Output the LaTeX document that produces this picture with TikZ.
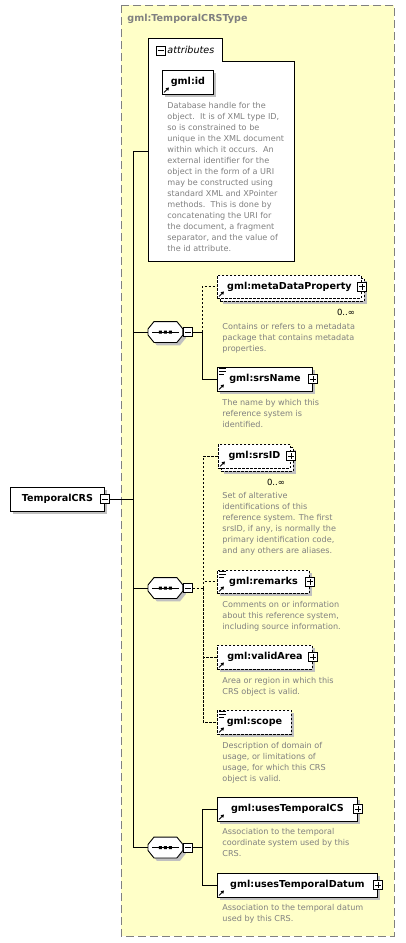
\documentclass[tikz,border=0pt]{standalone}
\usepackage{fontspec}
\setmainfont{DejaVu Sans}
\usepackage{tikz}
\usetikzlibrary{positioning,calc,shadows,arrows.meta}
\definecolor{xsdyellow}{RGB}{255,255,200}
\definecolor{xsdgray}{RGB}{128,128,128}
\definecolor{xsdshadow}{RGB}{192,192,192}
\newcommand{\seqoct}[1]{%
\draw[fill=white,boxshadow] ($(#1.west)+(0,-3)$) -- ($(#1.north west)+(6,0)$) -- ($(#1.north east)+(-6,0)$)
  -- ($(#1.east)+(0,-3)$) -- ($(#1.east)+(0,3)$) -- ($(#1.south east)+(-6,0)$)
  -- ($(#1.south west)+(6,0)$) -- ($(#1.west)+(0,3)$) -- cycle;
\draw ($(#1.west)+(4,0)$) -- ($(#1.east)+(-4,0)$);
\fill ($(#1.center)+(-6.5,-1.5)$) rectangle ++(3,3) ($(#1.center)+(-1.5,-1.5)$) rectangle ++(3,3)
  ($(#1.center)+(3.5,-1.5)$) rectangle ++(3,3);}

\begin{document}
\begin{tikzpicture}[x=1pt,y=-1pt,line width=0.9pt,
elem/.style={draw,fill=white,rectangle,anchor=west,inner sep=0pt,minimum height=24pt,
  font=\fontsize{9.6}{11}\selectfont\bfseries},
xsdopt/.style={dash pattern=on 2.5pt off 1.5pt},
boxshadow/.style={drop shadow={shadow xshift=3pt,shadow yshift=-3pt,fill=xsdshadow,opacity=1}},
xsdnote/.style={anchor=north west,inner sep=0pt,align=left,text=xsdgray,
  font=\fontsize{8.1}{11}\selectfont},
plusbox/.style={draw,fill=white,rectangle,minimum size=9pt,inner sep=0pt,line width=0.8pt,
  path picture={\draw[line width=0.8pt]
    ([xshift=1.5pt]path picture bounding box.west) -- ([xshift=-1.5pt]path picture bounding box.east)
    ([yshift=1.5pt]path picture bounding box.south) -- ([yshift=-1.5pt]path picture bounding box.north);}},
minusbox/.style={draw,fill=white,rectangle,minimum size=9pt,inner sep=0pt,line width=0.8pt,
  path picture={\draw[line width=0.8pt]
    ([xshift=1.5pt]path picture bounding box.west) -- ([xshift=-1.5pt]path picture bounding box.east);}},
seqbox/.style={rectangle,anchor=west,minimum width=34pt,minimum height=20pt,inner sep=0pt},
refarrow/.style={-{Triangle[length=3pt,width=3.5pt]},line width=0.8pt},
occurs/.style={inner sep=0pt,font=\fontsize{8.5}{10}\selectfont},
]
\useasboundingbox (0,0) rectangle (405,943);

\draw[xsdgray,fill=xsdyellow,dash pattern=on 8pt off 4pt] (121,5) rectangle (394,936);
\node (typename) at (127,19) [anchor=west,inner sep=0pt,text=xsdgray,
  font=\fontsize{9.6}{11}\selectfont\bfseries] {gml:TemporalCRSType};

\draw[fill=white] (148,261) -- (148,38) -- (222,38) -- (222,61) -- (294,61) -- (294,261) -- cycle;
\node (attrminus) at (160.5,50.5) [minusbox] {};
\node (attrlabel) at (167,50) [anchor=west,inner sep=0pt,font=\fontsize{9.6}{11}\selectfont\itshape] {attributes};
\node (gmlid) at (162,82) [elem,boxshadow,minimum width=51pt] {gml:id};
\draw[refarrow] ($(gmlid.south west)+(2,-2)$) -- ++(5,-5);
\node (iddesc) at (167,102) [xsdnote] {Database handle for the\\
object.\ \ It is of XML type ID,\\
so is constrained to be\\
unique in the XML document\\
within which it occurs.\ \ An\\
external identifier for the\\
object in the form of a URI\\
may be constructed using\\
standard XML and XPointer\\
methods.\ \ This is done by\\
concatenating the URI for\\
the document, a fragment\\
separator, and the value of\\
the id attribute.};
\coordinate (attrin) at (148,151);

\node (crs) at (10,499) [elem,boxshadow,minimum width=94pt] {TemporalCRS};
\node (crsminus) at (crs.east) [minusbox] {};

\coordinate (sp0) at (133,151);
\coordinate (spc) at (133,499);
\coordinate (sp1) at (133,332);
\coordinate (sp2) at (133,588);
\coordinate (sp3) at (133,847.5);

\node (seq1) at (148,332) [seqbox] {};
\seqoct{seq1}
\node (seq1m) at (seq1.east) [minusbox,anchor=west] {};
\coordinate (br1) at (202,332);
\node (seq2) at (148,588) [seqbox] {};
\seqoct{seq2}
\node (seq2m) at (seq2.east) [minusbox,anchor=west] {};
\coordinate (br2) at (203,588);
\node (seq3) at (148,847.5) [seqbox] {};
\seqoct{seq3}
\node (seq3m) at (seq3.east) [minusbox,anchor=west] {};
\coordinate (br3) at (202,847.5);

\node (mdpback) at (220,289.5) [elem,xsdopt,boxshadow,minimum width=144pt,minimum height=23pt] {};
\node (mdp) at (217,286.5) [elem,xsdopt,minimum width=144pt,minimum height=23pt] {gml:metaDataProperty};
\node (mdpplus) at (mdp.east) [plusbox] {};
\draw[refarrow] ($(mdp.south west)+(2,-2)$) -- ++(5,-5);
\node (mdpocc) at (346,312) [occurs] {0..∞};
\node (mdpdesc) at (222,323) [xsdnote] {Contains or refers to a metadata\\
package that contains metadata\\
properties.};

\node (srsname) at (217,379) [elem,boxshadow,minimum width=95pt] {gml:srsName};
\node (srsnameplus) at (srsname.east) [plusbox] {};
\draw[refarrow] ($(srsname.south west)+(2,-2)$) -- ++(5,-5);
\draw[line width=0.8pt] ($(srsname.north west)+(2,2)$) -- ++(7,0) ++(-7,3) -- ++(7,0) ++(-7,3) -- ++(5,0);
\node (srsnamedesc) at (222,399) [xsdnote] {The name by which this\\
reference system is\\
identified.};

\node (srsidback) at (221,459) [elem,xsdopt,boxshadow,minimum width=72pt] {};
\node (srsid) at (218,456) [elem,xsdopt,minimum width=72pt] {gml:srsID};
\node (srsidplus) at (srsid.east) [plusbox] {};
\draw[refarrow] ($(srsid.south west)+(2,-2)$) -- ++(5,-5);
\node (srsidocc) at (276,482) [occurs] {0..∞};
\node (srsiddesc) at (222,492) [xsdnote] {Set of alterative\\
identifications of this\\
reference system. The first\\
srsID, if any, is normally the\\
primary identification code,\\
and any others are aliases.};

\node (remarks) at (217,581.5) [elem,xsdopt,boxshadow,minimum width=92pt,minimum height=23pt] {gml:remarks};
\node (remarksplus) at (remarks.east) [plusbox] {};
\draw[refarrow] ($(remarks.south west)+(2,-2)$) -- ++(5,-5);
\draw[line width=0.8pt] ($(remarks.north west)+(2,2)$) -- ++(7,0) ++(-7,3) -- ++(7,0) ++(-7,3) -- ++(5,0);
\node (remarksdesc) at (222,601) [xsdnote] {Comments on or information\\
about this reference system,\\
including source information.};

\node (validarea) at (217,657) [elem,xsdopt,boxshadow,minimum width=95pt] {gml:validArea};
\node (validareaplus) at (validarea.east) [plusbox] {};
\draw[refarrow] ($(validarea.south west)+(2,-2)$) -- ++(5,-5);
\node (validareadesc) at (222,677) [xsdnote] {Area or region in which this\\
CRS object is valid.};

\node (scope) at (217,722) [elem,xsdopt,boxshadow,minimum width=74pt] {gml:scope};
\draw[refarrow] ($(scope.south west)+(2,-2)$) -- ++(5,-5);
\draw[line width=0.8pt] ($(scope.north west)+(2,2)$) -- ++(7,0) ++(-7,3) -- ++(7,0) ++(-7,3) -- ++(5,0);
\node (scopedesc) at (222,742) [xsdnote] {Description of domain of\\
usage, or limitations of\\
usage, for which this CRS\\
object is valid.};

\node (usescs) at (217,809) [elem,boxshadow,minimum width=140pt] {gml:usesTemporalCS};
\node (usescsplus) at (usescs.east) [plusbox] {};
\draw[refarrow] ($(usescs.south west)+(2,-2)$) -- ++(5,-5);
\node (usescsdesc) at (222,828) [xsdnote] {Association to the temporal\\
coordinate system used by this\\
CRS.};

\node (usesdatum) at (217,885) [elem,boxshadow,minimum width=160pt] {gml:usesTemporalDatum};
\node (usesdatumplus) at (usesdatum.east) [plusbox] {};
\draw[refarrow] ($(usesdatum.south west)+(2,-2)$) -- ++(5,-5);
\node (usesdatumdesc) at (222,904) [xsdnote] {Association to the temporal datum\\
used by this CRS.};

\draw (crsminus.east) -- (spc);
\draw (sp0) -- (sp3);
\draw (sp0) -- (attrin);
\draw (sp1) -- (seq1.west);
\draw (seq1m.east) -- (br1);
\draw[xsdopt] (br1) |- (mdp.west);
\draw (br1) |- (srsname.west);
\draw (sp2) -- (seq2.west);
\draw[xsdopt] (seq2m.east) -- (br2);
\draw[xsdopt] (br2) |- (srsid.west);
\draw[xsdopt] (br2) |- (remarks.west);
\draw[xsdopt] (br2) |- (validarea.west);
\draw[xsdopt] (br2) |- (scope.west);
\draw (sp3) -- (seq3.west);
\draw (seq3m.east) -- (br3);
\draw (br3) |- (usescs.west);
\draw (br3) |- (usesdatum.west);

\end{tikzpicture}
\end{document}
